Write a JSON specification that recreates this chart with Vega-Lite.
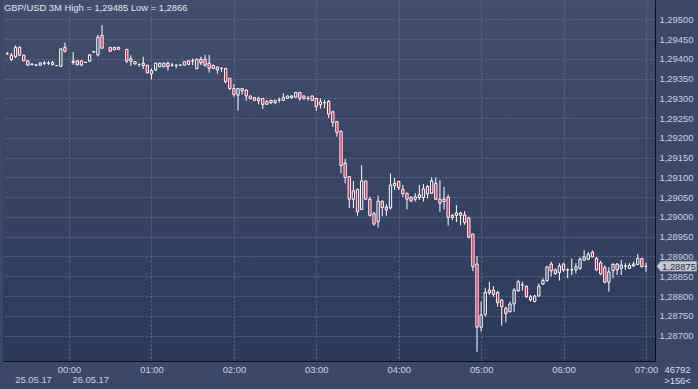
{
  "$schema": "https://vega.github.io/schema/vega-lite/v6.json",
  "width": 652,
  "height": 361,
  "autosize": {"type": "none"},
  "padding": {"left": 3, "top": 0, "right": 43, "bottom": 28},
  "background": "#3c4966",
  "config": {
    "font": "Liberation Sans, Arial, sans-serif",
    "axis": {"labelOverlap": false},
    "view": {
      "stroke": null,
      "fill": {"gradient": "linear", "x1": 0, "y1": 0, "x2": 0, "y2": 1,
        "stops": [{"offset": 0, "color": "#424f6b"}, {"offset": 1, "color": "#2c3a5a"}]}
    }
  },
  "title": {
    "text": "GBP/USD 3M High = 1,29485 Low = 1,2866",
    "anchor": "start",
    "orient": "top",
    "offset": -13,
    "dx": 1,
    "fontSize": 9.4,
    "fontWeight": "normal",
    "color": "#e2e6ee"
  },
  "datasets": {
    "candles": [
      {"t":"2017-05-25T23:15","o":1.29413,"h":1.29417,"l":1.29410,"c":1.29413},
      {"t":"2017-05-25T23:18","o":1.29409,"h":1.29415,"l":1.29394,"c":1.29398},
      {"t":"2017-05-25T23:21","o":1.29405,"h":1.29434,"l":1.29402,"c":1.29429},
      {"t":"2017-05-25T23:24","o":1.29429,"h":1.29431,"l":1.29407,"c":1.29409},
      {"t":"2017-05-25T23:27","o":1.29409,"h":1.29410,"l":1.29394,"c":1.29395},
      {"t":"2017-05-25T23:30","o":1.29395,"h":1.29397,"l":1.29383,"c":1.29384},
      {"t":"2017-05-25T23:33","o":1.29385,"h":1.29388,"l":1.29384,"c":1.29387},
      {"t":"2017-05-25T23:36","o":1.29384,"h":1.29386,"l":1.29381,"c":1.29384},
      {"t":"2017-05-25T23:39","o":1.29384,"h":1.29392,"l":1.29382,"c":1.29390},
      {"t":"2017-05-25T23:42","o":1.29389,"h":1.29395,"l":1.29384,"c":1.29389},
      {"t":"2017-05-25T23:45","o":1.29389,"h":1.29395,"l":1.29384,"c":1.29389},
      {"t":"2017-05-25T23:48","o":1.29391,"h":1.29395,"l":1.29384,"c":1.29385},
      {"t":"2017-05-25T23:51","o":1.29383,"h":1.29384,"l":1.29381,"c":1.29383},
      {"t":"2017-05-25T23:54","o":1.29381,"h":1.29427,"l":1.29381,"c":1.29425},
      {"t":"2017-05-25T23:57","o":1.29429,"h":1.29441,"l":1.29416,"c":1.29419},
      {"t":"2017-05-26T00:03","o":1.29391,"h":1.29417,"l":1.29385,"c":1.29394},
      {"t":"2017-05-26T00:06","o":1.29395,"h":1.29396,"l":1.29384,"c":1.29385},
      {"t":"2017-05-26T00:09","o":1.29395,"h":1.29396,"l":1.29383,"c":1.29384},
      {"t":"2017-05-26T00:12","o":1.29391,"h":1.29392,"l":1.29390,"c":1.29391},
      {"t":"2017-05-26T00:15","o":1.29394,"h":1.29412,"l":1.29393,"c":1.29410},
      {"t":"2017-05-26T00:18","o":1.29417,"h":1.29419,"l":1.29416,"c":1.29418},
      {"t":"2017-05-26T00:21","o":1.29410,"h":1.29461,"l":1.29406,"c":1.29455},
      {"t":"2017-05-26T00:24","o":1.29459,"h":1.29485,"l":1.29426,"c":1.29427},
      {"t":"2017-05-26T00:30","o":1.29429,"h":1.29430,"l":1.29418,"c":1.29419},
      {"t":"2017-05-26T00:33","o":1.29423,"h":1.29430,"l":1.29422,"c":1.29429},
      {"t":"2017-05-26T00:36","o":1.29429,"h":1.29430,"l":1.29423,"c":1.29424},
      {"t":"2017-05-26T00:42","o":1.29424,"h":1.29424,"l":1.29389,"c":1.29394},
      {"t":"2017-05-26T00:45","o":1.29400,"h":1.29409,"l":1.29382,"c":1.29394},
      {"t":"2017-05-26T00:48","o":1.29387,"h":1.29394,"l":1.29386,"c":1.29393},
      {"t":"2017-05-26T00:51","o":1.29386,"h":1.29387,"l":1.29380,"c":1.29386},
      {"t":"2017-05-26T00:54","o":1.29389,"h":1.29405,"l":1.29374,"c":1.29383},
      {"t":"2017-05-26T00:57","o":1.29384,"h":1.29384,"l":1.29363,"c":1.29365},
      {"t":"2017-05-26T01:00","o":1.29362,"h":1.29376,"l":1.29348,"c":1.29370},
      {"t":"2017-05-26T01:03","o":1.29372,"h":1.29390,"l":1.29369,"c":1.29389},
      {"t":"2017-05-26T01:06","o":1.29380,"h":1.29390,"l":1.29379,"c":1.29389},
      {"t":"2017-05-26T01:09","o":1.29380,"h":1.29390,"l":1.29379,"c":1.29389},
      {"t":"2017-05-26T01:12","o":1.29389,"h":1.29393,"l":1.29370,"c":1.29380},
      {"t":"2017-05-26T01:15","o":1.29384,"h":1.29390,"l":1.29380,"c":1.29384},
      {"t":"2017-05-26T01:18","o":1.29384,"h":1.29385,"l":1.29376,"c":1.29384},
      {"t":"2017-05-26T01:21","o":1.29384,"h":1.29385,"l":1.29383,"c":1.29384},
      {"t":"2017-05-26T01:24","o":1.29384,"h":1.29394,"l":1.29383,"c":1.29393},
      {"t":"2017-05-26T01:27","o":1.29395,"h":1.29396,"l":1.29384,"c":1.29386},
      {"t":"2017-05-26T01:30","o":1.29395,"h":1.29401,"l":1.29384,"c":1.29395},
      {"t":"2017-05-26T01:33","o":1.29375,"h":1.29400,"l":1.29374,"c":1.29399},
      {"t":"2017-05-26T01:36","o":1.29399,"h":1.29405,"l":1.29384,"c":1.29390},
      {"t":"2017-05-26T01:39","o":1.29399,"h":1.29410,"l":1.29380,"c":1.29384},
      {"t":"2017-05-26T01:42","o":1.29389,"h":1.29410,"l":1.29365,"c":1.29376},
      {"t":"2017-05-26T01:45","o":1.29383,"h":1.29386,"l":1.29374,"c":1.29376},
      {"t":"2017-05-26T01:48","o":1.29379,"h":1.29380,"l":1.29363,"c":1.29372},
      {"t":"2017-05-26T01:51","o":1.29376,"h":1.29379,"l":1.29367,"c":1.29376},
      {"t":"2017-05-26T01:54","o":1.29376,"h":1.29376,"l":1.29338,"c":1.29342},
      {"t":"2017-05-26T01:57","o":1.29351,"h":1.29351,"l":1.29321,"c":1.29325},
      {"t":"2017-05-26T02:00","o":1.29325,"h":1.29336,"l":1.29304,"c":1.29310},
      {"t":"2017-05-26T02:03","o":1.29308,"h":1.29326,"l":1.29269,"c":1.29325},
      {"t":"2017-05-26T02:06","o":1.29325,"h":1.29326,"l":1.29310,"c":1.29319},
      {"t":"2017-05-26T02:09","o":1.29321,"h":1.29323,"l":1.29294,"c":1.29306},
      {"t":"2017-05-26T02:12","o":1.29306,"h":1.29307,"l":1.29298,"c":1.29299},
      {"t":"2017-05-26T02:15","o":1.29302,"h":1.29303,"l":1.29294,"c":1.29295},
      {"t":"2017-05-26T02:18","o":1.29300,"h":1.29304,"l":1.29285,"c":1.29294},
      {"t":"2017-05-26T02:21","o":1.29300,"h":1.29300,"l":1.29273,"c":1.29285},
      {"t":"2017-05-26T02:24","o":1.29285,"h":1.29296,"l":1.29284,"c":1.29292},
      {"t":"2017-05-26T02:27","o":1.29295,"h":1.29296,"l":1.29286,"c":1.29289},
      {"t":"2017-05-26T02:30","o":1.29295,"h":1.29296,"l":1.29285,"c":1.29289},
      {"t":"2017-05-26T02:33","o":1.29296,"h":1.29302,"l":1.29289,"c":1.29296},
      {"t":"2017-05-26T02:36","o":1.29295,"h":1.29313,"l":1.29294,"c":1.29302},
      {"t":"2017-05-26T02:39","o":1.29300,"h":1.29307,"l":1.29299,"c":1.29306},
      {"t":"2017-05-26T02:42","o":1.29302,"h":1.29307,"l":1.29299,"c":1.29306},
      {"t":"2017-05-26T02:45","o":1.29303,"h":1.29316,"l":1.29302,"c":1.29315},
      {"t":"2017-05-26T02:48","o":1.29315,"h":1.29316,"l":1.29294,"c":1.29300},
      {"t":"2017-05-26T02:51","o":1.29306,"h":1.29307,"l":1.29296,"c":1.29300},
      {"t":"2017-05-26T02:54","o":1.29300,"h":1.29306,"l":1.29294,"c":1.29300},
      {"t":"2017-05-26T02:57","o":1.29306,"h":1.29307,"l":1.29294,"c":1.29295},
      {"t":"2017-05-26T03:00","o":1.29300,"h":1.29301,"l":1.29268,"c":1.29279},
      {"t":"2017-05-26T03:03","o":1.29284,"h":1.29300,"l":1.29274,"c":1.29291},
      {"t":"2017-05-26T03:06","o":1.29289,"h":1.29296,"l":1.29275,"c":1.29289},
      {"t":"2017-05-26T03:09","o":1.29292,"h":1.29296,"l":1.29250,"c":1.29260},
      {"t":"2017-05-26T03:12","o":1.29266,"h":1.29267,"l":1.29228,"c":1.29239},
      {"t":"2017-05-26T03:15","o":1.29241,"h":1.29242,"l":1.29203,"c":1.29214},
      {"t":"2017-05-26T03:18","o":1.29216,"h":1.29220,"l":1.29110,"c":1.29130},
      {"t":"2017-05-26T03:21","o":1.29136,"h":1.29147,"l":1.29085,"c":1.29100},
      {"t":"2017-05-26T03:24","o":1.29102,"h":1.29103,"l":1.29023,"c":1.29045},
      {"t":"2017-05-26T03:27","o":1.29045,"h":1.29091,"l":1.29023,"c":1.29066},
      {"t":"2017-05-26T03:30","o":1.29070,"h":1.29071,"l":1.29003,"c":1.29013},
      {"t":"2017-05-26T03:33","o":1.29019,"h":1.29131,"l":1.29018,"c":1.29091},
      {"t":"2017-05-26T03:36","o":1.29091,"h":1.29092,"l":1.29043,"c":1.29045},
      {"t":"2017-05-26T03:39","o":1.29045,"h":1.29051,"l":1.29001,"c":1.29004},
      {"t":"2017-05-26T03:42","o":1.29009,"h":1.29013,"l":1.28978,"c":1.28982},
      {"t":"2017-05-26T03:45","o":1.28988,"h":1.29054,"l":1.28973,"c":1.29040},
      {"t":"2017-05-26T03:48","o":1.29040,"h":1.29041,"l":1.29002,"c":1.29024},
      {"t":"2017-05-26T03:51","o":1.29025,"h":1.29032,"l":1.29003,"c":1.29018},
      {"t":"2017-05-26T03:54","o":1.29023,"h":1.29110,"l":1.29019,"c":1.29081},
      {"t":"2017-05-26T03:57","o":1.29079,"h":1.29099,"l":1.29068,"c":1.29085},
      {"t":"2017-05-26T04:00","o":1.29090,"h":1.29091,"l":1.29068,"c":1.29074},
      {"t":"2017-05-26T04:03","o":1.29070,"h":1.29081,"l":1.29051,"c":1.29059},
      {"t":"2017-05-26T04:06","o":1.29060,"h":1.29061,"l":1.29019,"c":1.29045},
      {"t":"2017-05-26T04:09","o":1.29049,"h":1.29053,"l":1.29039,"c":1.29040},
      {"t":"2017-05-26T04:12","o":1.29045,"h":1.29060,"l":1.29039,"c":1.29051},
      {"t":"2017-05-26T04:15","o":1.29056,"h":1.29081,"l":1.29043,"c":1.29049},
      {"t":"2017-05-26T04:18","o":1.29049,"h":1.29083,"l":1.29039,"c":1.29071},
      {"t":"2017-05-26T04:21","o":1.29077,"h":1.29081,"l":1.29047,"c":1.29058},
      {"t":"2017-05-26T04:24","o":1.29060,"h":1.29100,"l":1.29058,"c":1.29091},
      {"t":"2017-05-26T04:27","o":1.29085,"h":1.29100,"l":1.29043,"c":1.29045},
      {"t":"2017-05-26T04:30","o":1.29045,"h":1.29093,"l":1.29013,"c":1.29035},
      {"t":"2017-05-26T04:33","o":1.29039,"h":1.29076,"l":1.29019,"c":1.29045},
      {"t":"2017-05-26T04:36","o":1.29050,"h":1.29056,"l":1.28978,"c":1.28999},
      {"t":"2017-05-26T04:39","o":1.28999,"h":1.29007,"l":1.28992,"c":1.29004},
      {"t":"2017-05-26T04:42","o":1.29004,"h":1.29030,"l":1.28987,"c":1.29010},
      {"t":"2017-05-26T04:45","o":1.29010,"h":1.29013,"l":1.28979,"c":1.29004},
      {"t":"2017-05-26T04:48","o":1.29005,"h":1.29015,"l":1.28980,"c":1.28986},
      {"t":"2017-05-26T04:51","o":1.28997,"h":1.29001,"l":1.28946,"c":1.28949},
      {"t":"2017-05-26T04:54","o":1.28957,"h":1.28957,"l":1.28863,"c":1.28874},
      {"t":"2017-05-26T04:57","o":1.28881,"h":1.28901,"l":1.28659,"c":1.28721},
      {"t":"2017-05-26T05:00","o":1.28721,"h":1.28786,"l":1.28710,"c":1.28752},
      {"t":"2017-05-26T05:03","o":1.28754,"h":1.28821,"l":1.28748,"c":1.28809},
      {"t":"2017-05-26T05:06","o":1.28815,"h":1.28836,"l":1.28803,"c":1.28808},
      {"t":"2017-05-26T05:09","o":1.28815,"h":1.28825,"l":1.28798,"c":1.28804},
      {"t":"2017-05-26T05:12","o":1.28809,"h":1.28813,"l":1.28773,"c":1.28783},
      {"t":"2017-05-26T05:15","o":1.28790,"h":1.28791,"l":1.28725,"c":1.28773},
      {"t":"2017-05-26T05:18","o":1.28769,"h":1.28773,"l":1.28733,"c":1.28756},
      {"t":"2017-05-26T05:21","o":1.28760,"h":1.28786,"l":1.28759,"c":1.28780},
      {"t":"2017-05-26T05:24","o":1.28780,"h":1.28820,"l":1.28760,"c":1.28815},
      {"t":"2017-05-26T05:27","o":1.28813,"h":1.28841,"l":1.28811,"c":1.28836},
      {"t":"2017-05-26T05:30","o":1.28828,"h":1.28836,"l":1.28813,"c":1.28828},
      {"t":"2017-05-26T05:33","o":1.28825,"h":1.28826,"l":1.28796,"c":1.28798},
      {"t":"2017-05-26T05:36","o":1.28798,"h":1.28803,"l":1.28786,"c":1.28790},
      {"t":"2017-05-26T05:39","o":1.28786,"h":1.28803,"l":1.28784,"c":1.28800},
      {"t":"2017-05-26T05:42","o":1.28800,"h":1.28832,"l":1.28798,"c":1.28825},
      {"t":"2017-05-26T05:45","o":1.28830,"h":1.28845,"l":1.28828,"c":1.28839},
      {"t":"2017-05-26T05:48","o":1.28839,"h":1.28876,"l":1.28836,"c":1.28874},
      {"t":"2017-05-26T05:51","o":1.28881,"h":1.28887,"l":1.28849,"c":1.28864},
      {"t":"2017-05-26T05:54","o":1.28866,"h":1.28870,"l":1.28853,"c":1.28857},
      {"t":"2017-05-26T05:57","o":1.28859,"h":1.28883,"l":1.28839,"c":1.28876},
      {"t":"2017-05-26T06:00","o":1.28881,"h":1.28884,"l":1.28861,"c":1.28866},
      {"t":"2017-05-26T06:03","o":1.28866,"h":1.28870,"l":1.28845,"c":1.28866},
      {"t":"2017-05-26T06:06","o":1.28866,"h":1.28895,"l":1.28853,"c":1.28866},
      {"t":"2017-05-26T06:09","o":1.28866,"h":1.28883,"l":1.28857,"c":1.28874},
      {"t":"2017-05-26T06:12","o":1.28870,"h":1.28898,"l":1.28866,"c":1.28893},
      {"t":"2017-05-26T06:15","o":1.28891,"h":1.28916,"l":1.28889,"c":1.28899},
      {"t":"2017-05-26T06:18","o":1.28893,"h":1.28911,"l":1.28891,"c":1.28906},
      {"t":"2017-05-26T06:21","o":1.28911,"h":1.28915,"l":1.28898,"c":1.28899},
      {"t":"2017-05-26T06:24","o":1.28895,"h":1.28899,"l":1.28863,"c":1.28866},
      {"t":"2017-05-26T06:27","o":1.28884,"h":1.28889,"l":1.28853,"c":1.28856},
      {"t":"2017-05-26T06:30","o":1.28872,"h":1.28878,"l":1.28832,"c":1.28835},
      {"t":"2017-05-26T06:33","o":1.28835,"h":1.28873,"l":1.28811,"c":1.28861},
      {"t":"2017-05-26T06:36","o":1.28864,"h":1.28883,"l":1.28845,"c":1.28880},
      {"t":"2017-05-26T06:39","o":1.28881,"h":1.28883,"l":1.28853,"c":1.28866},
      {"t":"2017-05-26T06:42","o":1.28870,"h":1.28891,"l":1.28853,"c":1.28878},
      {"t":"2017-05-26T06:45","o":1.28876,"h":1.28883,"l":1.28866,"c":1.28876},
      {"t":"2017-05-26T06:48","o":1.28870,"h":1.28883,"l":1.28868,"c":1.28878},
      {"t":"2017-05-26T06:51","o":1.28876,"h":1.28887,"l":1.28874,"c":1.28881},
      {"t":"2017-05-26T06:54","o":1.28880,"h":1.28906,"l":1.28878,"c":1.28895},
      {"t":"2017-05-26T06:57","o":1.28895,"h":1.28896,"l":1.28872,"c":1.28874},
      {"t":"2017-05-26T07:00","o":1.28875,"h":1.28884,"l":1.28861,"c":1.28875}
    ],
    "last": [{"p": 1.28875, "label": "1,28875"}]
  },
  "resolve": {"axis": {"x": "independent"}},
  "layer": [
    {
      "data": {"name": "candles"},
      "mark": {"type": "rule", "color": "#ffffff", "strokeWidth": 1},
      "encoding": {
        "x": {
          "field": "t", "type": "temporal",
          "scale": {"domain": [
            {"year": 2017, "month": 5, "date": 25, "hours": 23, "minutes": 15, "seconds": 33},
            {"year": 2017, "month": 5, "date": 26, "hours": 7, "minutes": 2, "seconds": 56}
          ]},
          "axis": {
            "orient": "bottom",
            "values": [
              {"year": 2017, "month": 5, "date": 26, "hours": 0},
              {"year": 2017, "month": 5, "date": 26, "hours": 1},
              {"year": 2017, "month": 5, "date": 26, "hours": 2},
              {"year": 2017, "month": 5, "date": 26, "hours": 3},
              {"year": 2017, "month": 5, "date": 26, "hours": 4},
              {"year": 2017, "month": 5, "date": 26, "hours": 5},
              {"year": 2017, "month": 5, "date": 26, "hours": 6},
              {"year": 2017, "month": 5, "date": 26, "hours": 7}
            ],
            "tickCount": 20,
            "format": "%H:%M",
            "grid": true, "gridColor": "#5e6a87", "gridDash": [2, 2], "gridWidth": 1,
            "ticks": false,
            "domain": true, "domainColor": "#0c0f18", "domainWidth": 1,
            "labelColor": "#c9d1e2", "labelFontSize": 9.4, "labelPadding": 4,
            "labelFlush": false, "labelOverlap": false,
            "title": ">156<", "titleX": 674, "titleY": 19, "titleAngle": 0,
            "titleAlign": "center", "titleBaseline": "middle",
            "titleFontSize": 9.4, "titleFontWeight": "normal", "titleColor": "#d8deea"
          }
        },
        "y": {
          "field": "l", "type": "quantitative",
          "scale": {"domain": [1.286356, 1.295488], "nice": false, "zero": false},
          "axis": {
            "orient": "right",
            "values": [1.287, 1.2875, 1.288, 1.2885, 1.289, 1.2895, 1.29, 1.2905, 1.291, 1.2915, 1.292, 1.2925, 1.293, 1.2935, 1.294, 1.2945, 1.295],
            "tickCount": 40,
            "labelExpr": "replace(format(datum.value, '.5f'), '.', ',')",
            "grid": true, "gridColor": "#5e6a87", "gridDash": [2, 2], "gridWidth": 1,
            "ticks": false,
            "domain": true, "domainColor": "#0c0f18", "domainWidth": 1,
            "labelColor": "#c9d1e2", "labelFontSize": 9.4, "labelPadding": 4,
            "labelOverlap": false,
            "title": "46792", "titleX": 22, "titleY": 369, "titleAngle": 0,
            "titleAlign": "center", "titleBaseline": "middle",
            "titleFontSize": 9.4, "titleFontWeight": "normal", "titleColor": "#d8deea"
          }
        },
        "y2": {"field": "h"}
      }
    },
    {
      "data": {"name": "candles"},
      "mark": {"type": "bar", "width": 2.3, "stroke": "#ffffff", "strokeWidth": 1},
      "encoding": {
        "x": {
          "field": "t", "type": "temporal",
          "axis": {
            "orient": "bottom",
            "values": [
              {"year": 2017, "month": 5, "date": 25, "hours": 23, "minutes": 18, "seconds": 20},
              {"year": 2017, "month": 5, "date": 26, "hours": 0}
            ],
            "tickCount": 20,
            "format": "%d.%m.%y",
            "grid": false, "ticks": false, "domain": false,
            "labelAlign": "left", "labelPadding": 14, "labelOffset": 3,
            "labelFlush": false, "labelOverlap": false,
            "labelColor": "#c9d1e2", "labelFontSize": 9.4,
            "title": null
          }
        },
        "y": {"field": "o", "type": "quantitative"},
        "y2": {"field": "c"},
        "fill": {"condition": {"test": "datum.c < datum.o", "value": "#e60f3c"}, "value": "#37445f"}
      }
    },
    {
      "data": {"name": "last"},
      "mark": {"type": "point", "shape": "M0.034,0L0.114,-0.1L0.834,-0.1L0.834,0.1L0.114,0.1Z", "size": 10000, "filled": true, "fill": "#c5c9d1", "strokeWidth": 0, "opacity": 1},
      "encoding": {
        "x": {"value": "width"},
        "y": {"field": "p", "type": "quantitative"}
      }
    },
    {
      "data": {"name": "last"},
      "mark": {"type": "text", "dx": 24, "dy": 0.5, "align": "center", "baseline": "middle", "fontSize": 9.4, "color": "#1f2b45"},
      "encoding": {
        "x": {"value": "width"},
        "y": {"field": "p", "type": "quantitative"},
        "text": {"field": "label"}
      }
    }
  ]
}
